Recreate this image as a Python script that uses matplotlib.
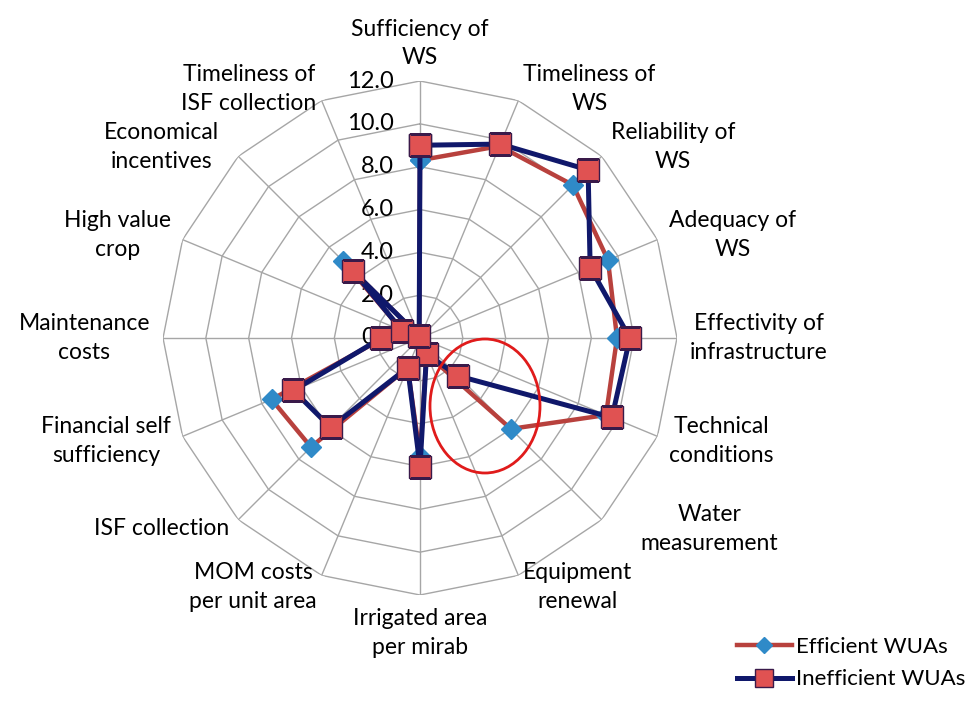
import matplotlib
matplotlib.use("Agg")
import matplotlib.pyplot as plt
import numpy as np
from matplotlib.patches import Ellipse
from matplotlib.lines import Line2D

categories = [
    "Sufficiency of\nWS", "Timeliness of\nWS", "Reliability of\nWS", "Adequacy of\nWS",
    "Effectivity of\ninfrastructure", "Technical\nconditions", "Water\nmeasurement",
    "Equipment\nrenewal", "Irrigated area\nper mirab", "MOM costs\nper unit area",
    "ISF collection", "Financial self\nsufficiency", "Maintenance\ncosts",
    "High value\ncrop", "Economical\nincentives", "Timeliness of\nISF collection",
]
efficient = [8.3, 9.7, 10.1, 9.5, 9.2, 9.4, 6.0, 0.8, 5.5, 1.5, 7.2, 7.5, 1.7, 0.9, 5.1, 0.1]
inefficient = [9.0, 9.8, 11.1, 8.6, 9.8, 9.7, 2.5, 0.8, 6.0, 1.5, 5.9, 6.4, 1.8, 0.9, 4.4, 0.1]
rings = [0, 2, 4, 6, 8, 10, 12]

FONT = "Lato"
C_EFF_LINE = "#B8413D"
C_EFF_MARK = "#2F8AC8"
C_INE_LINE = "#10186B"
C_INE_MARK = "#E05252"
C_GRID = "#A6A6A6"

W, H = 980, 701
fig = plt.figure(figsize=(W / 100, H / 100), dpi=100)
fig.patch.set_facecolor("white")

cx, cy, R = 420, 338, 257
ax = fig.add_axes([(cx - R) / W, (H - cy - R) / H, 2 * R / W, 2 * R / H], projection="polar")
ax.set_theta_zero_location("N")
ax.set_theta_direction(-1)
ax.set_ylim(0, 12)
ax.grid(False)
ax.set_xticks([])
ax.set_yticks([])
ax.spines["polar"].set_visible(False)
ax.patch.set_alpha(0)

n = len(categories)
theta = np.arange(n) * 2 * np.pi / n
closed = np.append(theta, theta[0])

# polygon grid like Excel radar
for r in rings[1:]:
    ax.plot(closed, [r] * (n + 1), color=C_GRID, lw=1.0, zorder=1)
for t in theta:
    ax.plot([t, t], [0, 12], color=C_GRID, lw=1.0, zorder=1)

# value labels along the top spoke
for r in rings:
    ax.annotate(f"{r:.1f}", xy=(0, r), xytext=(-26, 0), textcoords="offset pixels",
                ha="right", va="center", fontsize=17, family=FONT, zorder=2)

# category labels
xshift = {6: 30, 14: -10}
for i, (t, lab) in enumerate(zip(theta, categories)):
    s, c = np.sin(t), np.cos(t)
    ha = "left" if s > 0.1 else ("right" if s < -0.1 else "center")
    va = "center"
    if c > 0.95:
        va = "bottom"
    elif c < -0.95:
        va = "top"
    ax.annotate(lab, xy=(t, 12.6), xytext=(xshift.get(i, 0), 0), textcoords="offset pixels",
                ha=ha, va=va, multialignment="center", fontsize=16.5, family=FONT,
                linespacing=1.45, annotation_clip=False)

eff_c = np.append(efficient, efficient[0])
ine_c = np.append(inefficient, inefficient[0])
ax.plot(closed, eff_c, color=C_EFF_LINE, lw=3.2, zorder=3,
        marker="D", markersize=10, markerfacecolor=C_EFF_MARK, markeredgecolor=C_EFF_MARK)
ax.plot(closed, ine_c, color=C_INE_LINE, lw=3.6, zorder=4,
        marker="s", markersize=15.5, markerfacecolor=C_INE_MARK, markeredgecolor="#3A1A4A",
        markeredgewidth=1.0)

# red highlight ellipse
fig.add_artist(Ellipse((485 / W, 1 - 406 / H), 110 / W, 134 / H, fill=False,
                       edgecolor="#E01B1B", lw=2.0, transform=fig.transFigure, zorder=6))

handles = [
    Line2D([], [], color=C_EFF_LINE, lw=3.2, marker="D", markersize=8,
           markerfacecolor=C_EFF_MARK, markeredgecolor=C_EFF_MARK),
    Line2D([], [], color=C_INE_LINE, lw=3.6, marker="s", markersize=13,
           markerfacecolor=C_INE_MARK, markeredgecolor="#3A1A4A"),
]
fig.legend(handles, ["Efficient WUAs", "Inefficient WUAs"], loc="lower right",
           bbox_to_anchor=(1.005, -0.012), frameon=False, handlelength=2.5,
           handletextpad=0.15, labelspacing=0.55, prop={"family": FONT, "size": 16})

fig.savefig("out.png", dpi=100, facecolor="white")
